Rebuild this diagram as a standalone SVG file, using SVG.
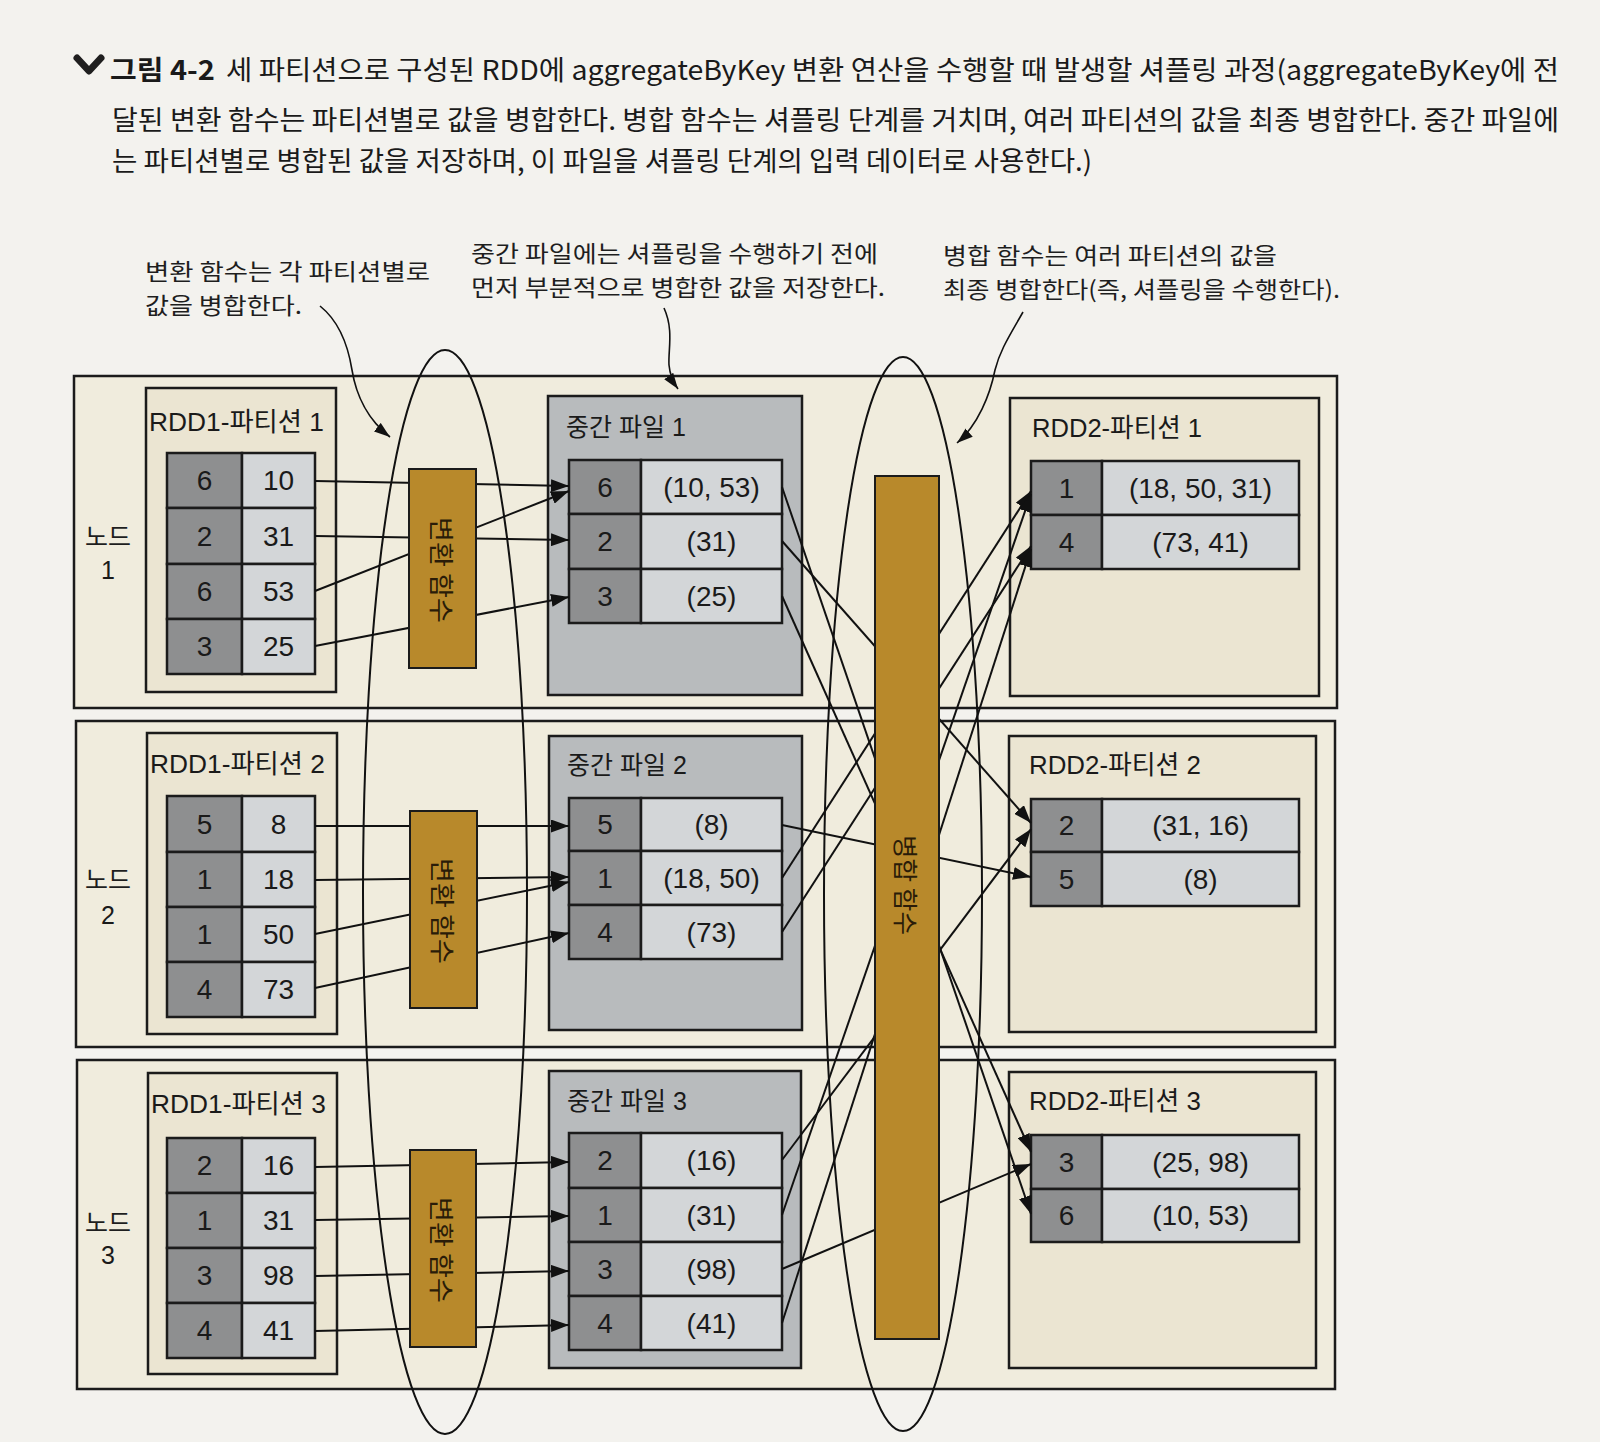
<svg xmlns="http://www.w3.org/2000/svg" width="1600" height="1442" viewBox="0 0 1600 1442">
<defs>
<marker id="ah" viewBox="0 0 18 13" refX="18" refY="6.5" markerWidth="18" markerHeight="13" markerUnits="userSpaceOnUse" orient="auto">
<path d="M0,0 L18,6.5 L0,13 Z" fill="#111"/>
</marker>
<marker id="ah2" viewBox="0 0 16 11" refX="16" refY="5.5" markerWidth="16" markerHeight="11" markerUnits="userSpaceOnUse" orient="auto">
<path d="M0,0 L16,5.5 L0,11 Z" fill="#111"/>
</marker>
<style>
.node{fill:#f0ecdd;stroke:#1b1b1b;stroke-width:2.5}
.part{fill:#ebe5d2;stroke:#1b1b1b;stroke-width:2.5}
.inter{fill:#b8bbbd;stroke:#1b1b1b;stroke-width:2.5}
.key{fill:#8e8f90;stroke:#1b1b1b;stroke-width:2.5}
.val{fill:#d3d6d8;stroke:#1b1b1b;stroke-width:2.5}
.gold{fill:#b8892b;stroke:#1b1b1b;stroke-width:2}
.num{font-family:"Liberation Sans","Noto Sans CJK KR",sans-serif;font-size:28px;fill:#1a1a1a;text-anchor:middle}
.title{font-family:"Liberation Sans","Noto Sans CJK KR",sans-serif;font-size:25px;fill:#1a1a1a}
.ptitle{font-family:"Liberation Sans","Noto Sans CJK KR",sans-serif;font-size:26px;fill:#1a1a1a}
.kr{font-family:"Noto Sans CJK KR","Liberation Sans",sans-serif;fill:#1e1e1e}
.ann{font-family:"Noto Sans CJK KR","Liberation Sans",sans-serif;font-size:23px;fill:#1e1e1e}
.cap{font-family:"Noto Sans CJK KR","Liberation Sans",sans-serif;font-size:27px;fill:#1a1a1a}
.vt{font-family:"Noto Sans CJK KR",sans-serif;font-size:25px;fill:#2a1c08;text-anchor:middle;dominant-baseline:central}
.edge{stroke:#111;stroke-width:2;fill:none;marker-end:url(#ah)}
.aedge{stroke:#111;stroke-width:1.6;fill:none;marker-end:url(#ah2)}
.ell{fill:none;stroke:#111;stroke-width:2}
</style>
</defs>
<rect x="0" y="0" width="1600" height="1442" fill="#f3f2ee"/>

<g id="caption">
<path d="M77,58 L89,71 L101,58" fill="none" stroke="#1f1f1f" stroke-width="7" stroke-linejoin="round" stroke-linecap="round"/>
<text class="cap" x="110" y="80" font-weight="700" textLength="105" lengthAdjust="spacingAndGlyphs">그림 4-2</text>
<text class="cap" x="226" y="80" textLength="1333" lengthAdjust="spacingAndGlyphs">세 파티션으로 구성된 RDD에 aggregateByKey 변환 연산을 수행할 때 발생할 셔플링 과정(aggregateByKey에 전</text>
<text class="cap" x="112" y="130" textLength="1447" lengthAdjust="spacingAndGlyphs">달된 변환 함수는 파티션별로 값을 병합한다. 병합 함수는 셔플링 단계를 거치며, 여러 파티션의 값을 최종 병합한다. 중간 파일에</text>
<text class="cap" x="112" y="171" textLength="980" lengthAdjust="spacingAndGlyphs">는 파티션별로 병합된 값을 저장하며, 이 파일을 셔플링 단계의 입력 데이터로 사용한다.)</text>
</g>

<g id="node-1">
<rect class="node" x="74" y="376" width="1263" height="332"/>
<text class="kr" font-size="25" x="108" y="546" text-anchor="middle">노드</text>
<text class="title" x="108" y="579" text-anchor="middle">1</text>
</g>
<g id="node-2">
<rect class="node" x="76" y="721" width="1259" height="326"/>
<text class="kr" font-size="25" x="108" y="889" text-anchor="middle">노드</text>
<text class="title" x="108" y="924" text-anchor="middle">2</text>
</g>
<g id="node-3">
<rect class="node" x="77" y="1060" width="1258" height="329"/>
<text class="kr" font-size="25" x="108" y="1232" text-anchor="middle">노드</text>
<text class="title" x="108" y="1264" text-anchor="middle">3</text>
</g>

<g id="rdd1-partition-1">
<rect class="part" x="146" y="388" width="190" height="304"/>
<text class="ptitle" x="149" y="431" textLength="175" lengthAdjust="spacingAndGlyphs">RDD1-파티션 1</text>
<rect class="key" x="167" y="453" width="75" height="55"/><rect class="val" x="242" y="453" width="73" height="55"/>
<rect class="key" x="167" y="508" width="75" height="56"/><rect class="val" x="242" y="508" width="73" height="56"/>
<rect class="key" x="167" y="564" width="75" height="55"/><rect class="val" x="242" y="564" width="73" height="55"/>
<rect class="key" x="167" y="619" width="75" height="55"/><rect class="val" x="242" y="619" width="73" height="55"/>
<text class="num" x="204.5" y="490">6</text><text class="num" x="278.5" y="490">10</text>
<text class="num" x="204.5" y="546">2</text><text class="num" x="278.5" y="546">31</text>
<text class="num" x="204.5" y="601">6</text><text class="num" x="278.5" y="601">53</text>
<text class="num" x="204.5" y="656">3</text><text class="num" x="278.5" y="656">25</text>
</g>
<g id="rdd1-partition-2">
<rect class="part" x="147" y="733" width="190" height="301"/>
<text class="ptitle" x="150" y="773" textLength="175" lengthAdjust="spacingAndGlyphs">RDD1-파티션 2</text>
<rect class="key" x="167" y="796" width="75" height="56"/><rect class="val" x="242" y="796" width="73" height="56"/>
<rect class="key" x="167" y="852" width="75" height="55"/><rect class="val" x="242" y="852" width="73" height="55"/>
<rect class="key" x="167" y="907" width="75" height="55"/><rect class="val" x="242" y="907" width="73" height="55"/>
<rect class="key" x="167" y="962" width="75" height="55"/><rect class="val" x="242" y="962" width="73" height="55"/>
<text class="num" x="204.5" y="834">5</text><text class="num" x="278.5" y="834">8</text>
<text class="num" x="204.5" y="889">1</text><text class="num" x="278.5" y="889">18</text>
<text class="num" x="204.5" y="944">1</text><text class="num" x="278.5" y="944">50</text>
<text class="num" x="204.5" y="999">4</text><text class="num" x="278.5" y="999">73</text>
</g>
<g id="rdd1-partition-3">
<rect class="part" x="148" y="1073" width="189" height="301"/>
<text class="ptitle" x="151" y="1113" textLength="175" lengthAdjust="spacingAndGlyphs">RDD1-파티션 3</text>
<rect class="key" x="167" y="1138" width="75" height="55"/><rect class="val" x="242" y="1138" width="73" height="55"/>
<rect class="key" x="167" y="1193" width="75" height="55"/><rect class="val" x="242" y="1193" width="73" height="55"/>
<rect class="key" x="167" y="1248" width="75" height="55"/><rect class="val" x="242" y="1248" width="73" height="55"/>
<rect class="key" x="167" y="1303" width="75" height="55"/><rect class="val" x="242" y="1303" width="73" height="55"/>
<text class="num" x="204.5" y="1175">2</text><text class="num" x="278.5" y="1175">16</text>
<text class="num" x="204.5" y="1230">1</text><text class="num" x="278.5" y="1230">31</text>
<text class="num" x="204.5" y="1285">3</text><text class="num" x="278.5" y="1285">98</text>
<text class="num" x="204.5" y="1340">4</text><text class="num" x="278.5" y="1340">41</text>
</g>

<g id="intermediate-file-1">
<rect class="inter" x="548" y="396" width="254" height="299"/>
<text class="title" x="566" y="436">중간 파일 1</text>
<rect class="key" x="569" y="460" width="72" height="54"/><rect class="val" x="641" y="460" width="141" height="54"/>
<rect class="key" x="569" y="514" width="72" height="55"/><rect class="val" x="641" y="514" width="141" height="55"/>
<rect class="key" x="569" y="569" width="72" height="54"/><rect class="val" x="641" y="569" width="141" height="54"/>
<text class="num" x="605" y="497">6</text><text class="num" x="711.5" y="497">(10, 53)</text>
<text class="num" x="605" y="551">2</text><text class="num" x="711.5" y="551">(31)</text>
<text class="num" x="605" y="606">3</text><text class="num" x="711.5" y="606">(25)</text>
</g>
<g id="intermediate-file-2">
<rect class="inter" x="549" y="736" width="253" height="294"/>
<text class="title" x="567" y="774">중간 파일 2</text>
<rect class="key" x="569" y="798" width="72" height="53"/><rect class="val" x="641" y="798" width="141" height="53"/>
<rect class="key" x="569" y="851" width="72" height="54"/><rect class="val" x="641" y="851" width="141" height="54"/>
<rect class="key" x="569" y="905" width="72" height="54"/><rect class="val" x="641" y="905" width="141" height="54"/>
<text class="num" x="605" y="834">5</text><text class="num" x="711.5" y="834">(8)</text>
<text class="num" x="605" y="888">1</text><text class="num" x="711.5" y="888">(18, 50)</text>
<text class="num" x="605" y="942">4</text><text class="num" x="711.5" y="942">(73)</text>
</g>
<g id="intermediate-file-3">
<rect class="inter" x="549" y="1071" width="252" height="297"/>
<text class="title" x="567" y="1110">중간 파일 3</text>
<rect class="key" x="569" y="1133" width="72" height="55"/><rect class="val" x="641" y="1133" width="141" height="55"/>
<rect class="key" x="569" y="1188" width="72" height="54"/><rect class="val" x="641" y="1188" width="141" height="54"/>
<rect class="key" x="569" y="1242" width="72" height="54"/><rect class="val" x="641" y="1242" width="141" height="54"/>
<rect class="key" x="569" y="1296" width="72" height="54"/><rect class="val" x="641" y="1296" width="141" height="54"/>
<text class="num" x="605" y="1170">2</text><text class="num" x="711.5" y="1170">(16)</text>
<text class="num" x="605" y="1225">1</text><text class="num" x="711.5" y="1225">(31)</text>
<text class="num" x="605" y="1279">3</text><text class="num" x="711.5" y="1279">(98)</text>
<text class="num" x="605" y="1333">4</text><text class="num" x="711.5" y="1333">(41)</text>
</g>

<g id="rdd2-partition-1">
<rect class="part" x="1010" y="398" width="309" height="298"/>
<text class="ptitle" x="1032" y="437" textLength="170" lengthAdjust="spacingAndGlyphs">RDD2-파티션 1</text>
<rect class="key" x="1031" y="461" width="71" height="54"/><rect class="val" x="1102" y="461" width="197" height="54"/>
<rect class="key" x="1031" y="515" width="71" height="54"/><rect class="val" x="1102" y="515" width="197" height="54"/>
<text class="num" x="1066.5" y="498">1</text><text class="num" x="1200.5" y="498">(18, 50, 31)</text>
<text class="num" x="1066.5" y="552">4</text><text class="num" x="1200.5" y="552">(73, 41)</text>
</g>
<g id="rdd2-partition-2">
<rect class="part" x="1009" y="736" width="307" height="296"/>
<text class="ptitle" x="1029" y="774" textLength="172" lengthAdjust="spacingAndGlyphs">RDD2-파티션 2</text>
<rect class="key" x="1031" y="799" width="71" height="53"/><rect class="val" x="1102" y="799" width="197" height="53"/>
<rect class="key" x="1031" y="852" width="71" height="54"/><rect class="val" x="1102" y="852" width="197" height="54"/>
<text class="num" x="1066.5" y="835">2</text><text class="num" x="1200.5" y="835">(31, 16)</text>
<text class="num" x="1066.5" y="889">5</text><text class="num" x="1200.5" y="889">(8)</text>
</g>
<g id="rdd2-partition-3">
<rect class="part" x="1009" y="1072" width="307" height="296"/>
<text class="ptitle" x="1029" y="1110" textLength="172" lengthAdjust="spacingAndGlyphs">RDD2-파티션 3</text>
<rect class="key" x="1031" y="1135" width="71" height="54"/><rect class="val" x="1102" y="1135" width="197" height="54"/>
<rect class="key" x="1031" y="1189" width="71" height="53"/><rect class="val" x="1102" y="1189" width="197" height="53"/>
<text class="num" x="1066.5" y="1172">3</text><text class="num" x="1200.5" y="1172">(25, 98)</text>
<text class="num" x="1066.5" y="1225">6</text><text class="num" x="1200.5" y="1225">(10, 53)</text>
</g>

<g id="connectors">
<path class="edge" d="M315,481 L569,486"/>
<path class="edge" d="M315,536 L569,540"/>
<path class="edge" d="M315,591 L569,491"/>
<path class="edge" d="M315,646 L569,597"/>
<path class="edge" d="M315,826 L569,826"/>
<path class="edge" d="M315,880 L569,877"/>
<path class="edge" d="M315,934 L569,882"/>
<path class="edge" d="M315,988 L569,933"/>
<path class="edge" d="M315,1167 L569,1162"/>
<path class="edge" d="M315,1220 L569,1216"/>
<path class="edge" d="M315,1276 L569,1271"/>
<path class="edge" d="M315,1331 L569,1325"/>
<path class="edge" d="M782,487 L1031,1214"/>
<path class="edge" d="M782,541 L1031,823"/>
<path class="edge" d="M782,596 L1031,1152"/>
<path class="edge" d="M782,825 L1031,877"/>
<path class="edge" d="M782,878 L1031,491"/>
<path class="edge" d="M782,932 L1031,546"/>
<path class="edge" d="M782,1160 L1031,829"/>
<path class="edge" d="M782,1215 L1031,494"/>
<path class="edge" d="M782,1269 L1031,1164"/>
<path class="edge" d="M782,1323 L1031,549"/>
</g>

<g id="transform-function-1">
<rect class="gold" x="409" y="469" width="67" height="199"/>
<text class="vt" transform="translate(442.5,570) rotate(90)" textLength="106" lengthAdjust="spacingAndGlyphs">변환 함수</text>
</g>
<g id="transform-function-2">
<rect class="gold" x="410" y="811" width="67" height="197"/>
<text class="vt" transform="translate(443.5,911) rotate(90)" textLength="106" lengthAdjust="spacingAndGlyphs">변환 함수</text>
</g>
<g id="transform-function-3">
<rect class="gold" x="410" y="1150" width="66" height="197"/>
<text class="vt" transform="translate(443,1250) rotate(90)" textLength="106" lengthAdjust="spacingAndGlyphs">변환 함수</text>
</g>
<g id="combine-function">
<rect class="gold" x="875" y="476" width="64" height="863"/>
<text class="vt" transform="translate(907,885) rotate(90)" textLength="100" lengthAdjust="spacingAndGlyphs">병합 함수</text>
</g>

<g id="transform-group-ellipse">
<ellipse class="ell" cx="445" cy="892" rx="82" ry="542"/>
</g>
<g id="combine-group-ellipse">
<ellipse class="ell" cx="903" cy="894" rx="79" ry="537"/>
</g>

<g id="annotations">
<text class="ann" x="145" y="280" textLength="285" lengthAdjust="spacingAndGlyphs">변환 함수는 각 파티션별로</text>
<text class="ann" x="145" y="314" textLength="157" lengthAdjust="spacingAndGlyphs">값을 병합한다.</text>
<path class="aedge" d="M320,306 C340,322 348,345 352,370 C356,395 368,420 390,437"/>
<text class="ann" x="471" y="262" textLength="407" lengthAdjust="spacingAndGlyphs">중간 파일에는 셔플링을 수행하기 전에</text>
<text class="ann" x="471" y="296" textLength="414" lengthAdjust="spacingAndGlyphs">먼저 부분적으로 병합한 값을 저장한다.</text>
<path class="aedge" d="M664,308 C674,330 668,350 669,365 C670,376 673,382 678,389"/>
<text class="ann" x="943" y="264" textLength="334" lengthAdjust="spacingAndGlyphs">병합 함수는 여러 파티션의 값을</text>
<text class="ann" x="943" y="298" textLength="397" lengthAdjust="spacingAndGlyphs">최종 병합한다(즉, 셔플링을 수행한다).</text>
<path class="aedge" d="M1023,312 C1010,335 1000,350 995,370 C990,395 978,425 957,443"/>
</g>
</svg>
